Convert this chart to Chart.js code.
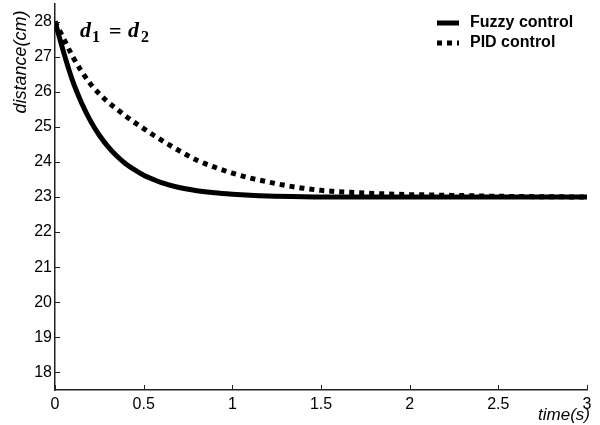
<!DOCTYPE html>
<html>
<head>
<meta charset="utf-8">
<script src="https://cdn.jsdelivr.net/npm/chart.js@4.4.0/dist/chart.umd.min.js"></script>
<style>
  html, body { margin: 0; padding: 0; background: #fff; }
  #wrap { width: 600px; height: 425px; }
</style>
</head>
<body>
<div id="wrap"><canvas id="chart" width="600" height="425"></canvas></div>
<script>
// values
const fuzzyTime = [0, 0.05, 0.1, 0.15, 0.2, 0.25, 0.3, 0.35, 0.4, 0.45, 0.5, 0.55, 0.6, 0.7, 0.8, 0.9, 1.0, 1.1, 1.2, 1.4, 1.6, 2.0, 2.5, 3.0];
const fuzzyDist = [28.0, 27.1, 26.3, 25.68, 25.17, 24.76, 24.43, 24.16, 23.94, 23.77, 23.62, 23.51, 23.41, 23.27, 23.18, 23.12, 23.08, 23.05, 23.03, 23.01, 23.0, 23.0, 23.0, 23.0];

const pidTime = [0, 0.05, 0.1, 0.15, 0.2, 0.25, 0.3, 0.35, 0.4, 0.45, 0.5, 0.55, 0.6, 0.7, 0.8, 0.9, 1.0, 1.1, 1.2, 1.3, 1.4, 1.5, 1.6, 1.8, 2.0, 2.2, 2.5, 3.0];
const pidDist = [28.0, 27.5, 27.0, 26.58, 26.22, 25.94, 25.7, 25.5, 25.3, 25.12, 24.95, 24.78, 24.62, 24.32, 24.05, 23.85, 23.68, 23.54, 23.43, 23.33, 23.25, 23.19, 23.15, 23.1, 23.07, 23.05, 23.02, 23.0];

const xTicks = [0, 0.5, 1, 1.5, 2, 2.5, 3];
const yTicks = [18, 19, 20, 21, 22, 23, 24, 25, 26, 27, 28];

const toPoints = (xs, ys) => xs.map((x, i) => ({ x: x, y: ys[i] }));

// MATLAB style inward ticks, axis titles, legend and annotation
const decorations = {
    id: 'decorations',
    afterDraw(chart) {
        const ctx = chart.ctx;
        const area = chart.chartArea;
        const xs = chart.scales.x;
        const ys = chart.scales.y;
        ctx.save();

        // inward ticks
        ctx.strokeStyle = '#222';
        ctx.lineWidth = 1;
        ctx.beginPath();
        ys.ticks.forEach(t => {
            const y = Math.round(ys.getPixelForValue(t.value)) + 0.5;
            ctx.moveTo(area.left, y);
            ctx.lineTo(area.left + 5, y);
        });
        xs.ticks.forEach(t => {
            const x = Math.round(xs.getPixelForValue(t.value)) + 0.5;
            ctx.moveTo(x, area.bottom);
            ctx.lineTo(x, area.bottom - 5);
        });
        ctx.stroke();

        // axis titles
        ctx.fillStyle = '#000';
        ctx.font = 'italic 17px "Liberation Sans", Arial, sans-serif';
        ctx.textAlign = 'right';
        ctx.textBaseline = 'alphabetic';
        ctx.fillText('time(s)', 590, 420);

        ctx.save();
        ctx.translate(26, 62);
        ctx.rotate(-Math.PI / 2);
        ctx.textAlign = 'center';
        ctx.font = 'italic 18px "Liberation Sans", Arial, sans-serif';
        ctx.fillText('distance(cm)', 0, 0);
        ctx.restore();

        // d1 = d2
        ctx.textAlign = 'left';
        ctx.font = 'bold italic 22px "Liberation Serif", "Times New Roman", serif';
        ctx.fillText('d', 80, 37);
        ctx.fillText('d', 128, 37);
        ctx.font = 'bold 22px "Liberation Serif", "Times New Roman", serif';
        ctx.fillText('=', 109, 38);
        ctx.font = 'bold 16px "Liberation Serif", "Times New Roman", serif';
        ctx.fillText('1', 92, 42);
        ctx.fillText('2', 141, 42);

        // legend
        const rows = [23, 43];
        chart.data.datasets.forEach((ds, i) => {
            const y = rows[i];
            ctx.strokeStyle = ds.borderColor;
            ctx.lineWidth = ds.borderWidth;
            ctx.setLineDash(ds.borderDash || []);
            ctx.lineCap = 'butt';
            ctx.beginPath();
            ctx.moveTo(437, y);
            ctx.lineTo(459, y);
            ctx.stroke();
            ctx.setLineDash([]);
            ctx.fillStyle = '#000';
            ctx.font = 'bold 16px "Liberation Sans", Arial, sans-serif';
            ctx.textBaseline = 'middle';
            ctx.fillText(ds.label, 470, y);
        });
        ctx.restore();
    }
};

new Chart(document.getElementById('chart'), {
    type: 'line',
    data: {
        datasets: [
            {
                label: 'Fuzzy control',
                data: toPoints(fuzzyTime, fuzzyDist),
                borderColor: '#000',
                borderWidth: 5,
                pointRadius: 0,
                cubicInterpolationMode: 'monotone',
                fill: false
            },
            {
                label: 'PID control',
                data: toPoints(pidTime, pidDist),
                borderColor: '#000',
                borderWidth: 5,
                borderDash: [5, 5],
                pointRadius: 0,
                cubicInterpolationMode: 'monotone',
                fill: false
            }
        ]
    },
    options: {
        responsive: false,
        animation: false,
        layout: { padding: { left: 0, right: 13, top: 4, bottom: 0 } },
        plugins: {
            legend: { display: false },
            tooltip: { enabled: false }
        },
        scales: {
            x: {
                type: 'linear',
                min: 0,
                max: 3,
                afterBuildTicks: s => { s.ticks = xTicks.map(v => ({ value: v })); },
                afterFit: s => { s.height = 35; s.paddingLeft = 0; s.paddingRight = 0; },
                grid: { display: true, drawOnChartArea: false, drawTicks: false },
                border: { display: true, color: '#222', width: 1.5 },
                ticks: {
                    color: '#000',
                    padding: 5,
                    maxRotation: 0,
                    callback: v => String(v),
                    font: { family: '"Liberation Sans", Arial, sans-serif', size: 16 }
                }
            },
            y: {
                type: 'linear',
                min: 17.5,
                max: 28.5,
                afterBuildTicks: s => { s.ticks = yTicks.map(v => ({ value: v })); },
                afterFit: s => { s.width = 55; s.paddingTop = 0; s.paddingBottom = 0; },
                grid: { display: true, drawOnChartArea: false, drawTicks: false },
                border: { display: true, color: '#222', width: 1.5 },
                ticks: {
                    color: '#000',
                    padding: 3,
                    callback: v => String(v),
                    font: { family: '"Liberation Sans", Arial, sans-serif', size: 16 }
                }
            }
        }
    },
    plugins: [decorations]
});
</script>
</body>
</html>
